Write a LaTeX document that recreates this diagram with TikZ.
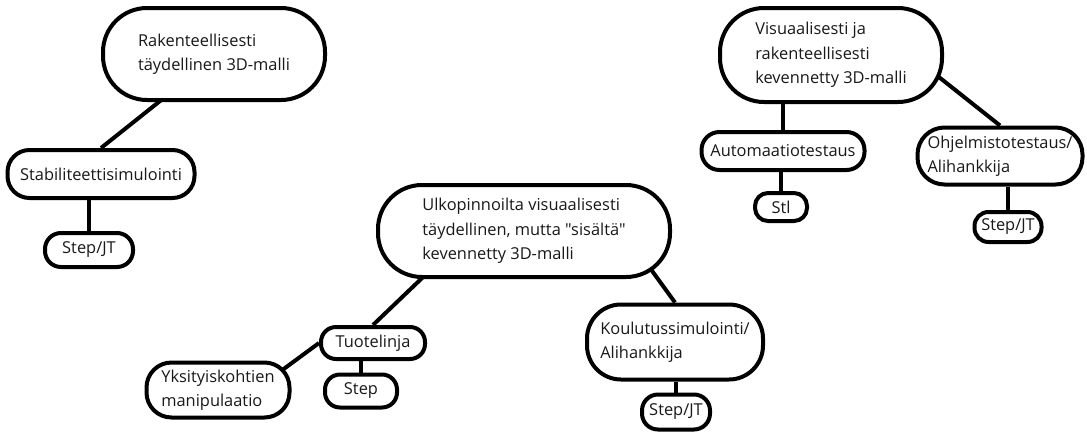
\documentclass[tikz,border=0pt]{standalone}
\usepackage{fontspec}
\newfontfamily\mapfont{Open Sans}
\usepackage{tikz}
\usetikzlibrary{positioning, backgrounds, calc}

\begin{document}
\begin{tikzpicture}[x=1pt, y=-1pt,
  font=\mapfont\fontsize{16.4}{24.5}\selectfont,
  bub/.style={draw, line width=4pt, fill=white, rounded corners=#1, align=left,
              inner sep=0pt, text=black!90},
  link/.style={line width=4pt, black},
  into/.style={shorten <=-14pt}]
  \useasboundingbox (0,0) rectangle (1087,432);
  % boxes
  \node[bub=44pt, minimum width=222pt, minimum height=92pt] (rak) at (214,54)
    {Rakenteellisesti\\täydellinen 3D-malli};
  \node[bub=22pt, minimum width=187pt, minimum height=48pt] (stab) at (101,174)
    {Stabiliteettisimulointi};
  \node[bub=16pt, minimum width=88pt, minimum height=34pt] (sj1) at (89,250) {Step/JT};
  \node[bub=44pt, minimum width=292pt, minimum height=92pt] (ulko) at (524,231)
    {Ulkopinnoilta visuaalisesti\\täydellinen, mutta "sisältä"\\kevennetty 3D-malli};
  \node[bub=15pt, minimum width=104pt, minimum height=32pt] (tuote) at (373,343) {Tuotelinja};
  \node[bub=15pt, minimum width=72pt, minimum height=33pt] (step) at (361,391) {Step};
  \node[bub=25pt, minimum width=143pt, minimum height=55pt] (yks) at (218,390)
    {Yksityiskohtien\\manipulaatio};
  \node[bub=34pt, minimum width=176pt, minimum height=75pt] (koul) at (675,342)
    {Koulutussimulointi/\\Alihankkija};
  \node[bub=16pt, minimum width=68pt, minimum height=35pt] (sj2) at (676,412) {Step/JT};
  \node[bub=44pt, minimum width=222pt, minimum height=94pt] (vis) at (831,55)
    {Visuaalisesti ja\\rakenteellisesti\\kevennetty 3D-malli};
  \node[bub=18pt, minimum width=163pt, minimum height=38pt] (auto) at (783,151)
    {Automaatiotestaus};
  \node[bub=13pt, minimum width=52pt, minimum height=28pt] (stl) at (781,207) {Stl};
  \node[bub=27pt, minimum width=165pt, minimum height=57pt] (ohj) at (1000,156)
    {Ohjelmistotestaus/\\Alihankkija};
  \node[bub=14pt, minimum width=67pt, minimum height=30pt] (sj3) at (1008,227) {Step/JT};
  % connectors, behind the boxes
  \begin{scope}[on background layer]
    \draw[link, into] (rak.221) -- (stab.north);
    \draw[link] (sj1.north) -- (sj1.north |- stab.south);
    \draw[link, into] (ulko.205) -- (tuote.north);
    \draw[link] ($(ulko.center)+(118,26)$) -- (koul.north);
    \draw[link] (step.north) -- (step.north |- tuote.south);
    \draw[link, shorten >=-14pt] (tuote.west) -- (yks.20);
    \draw[link] (sj2.north) -- (sj2.north |- koul.south);
    \draw[link] (auto.north) -- (auto.north |- vis.south);
    \draw[link] (stl.north) -- (stl.north |- auto.south);
    \draw[link, into] (vis.-13) -- (ohj.north);
    \draw[link] (sj3.north) -- (sj3.north |- ohj.south);
  \end{scope}
\end{tikzpicture}
\end{document}
